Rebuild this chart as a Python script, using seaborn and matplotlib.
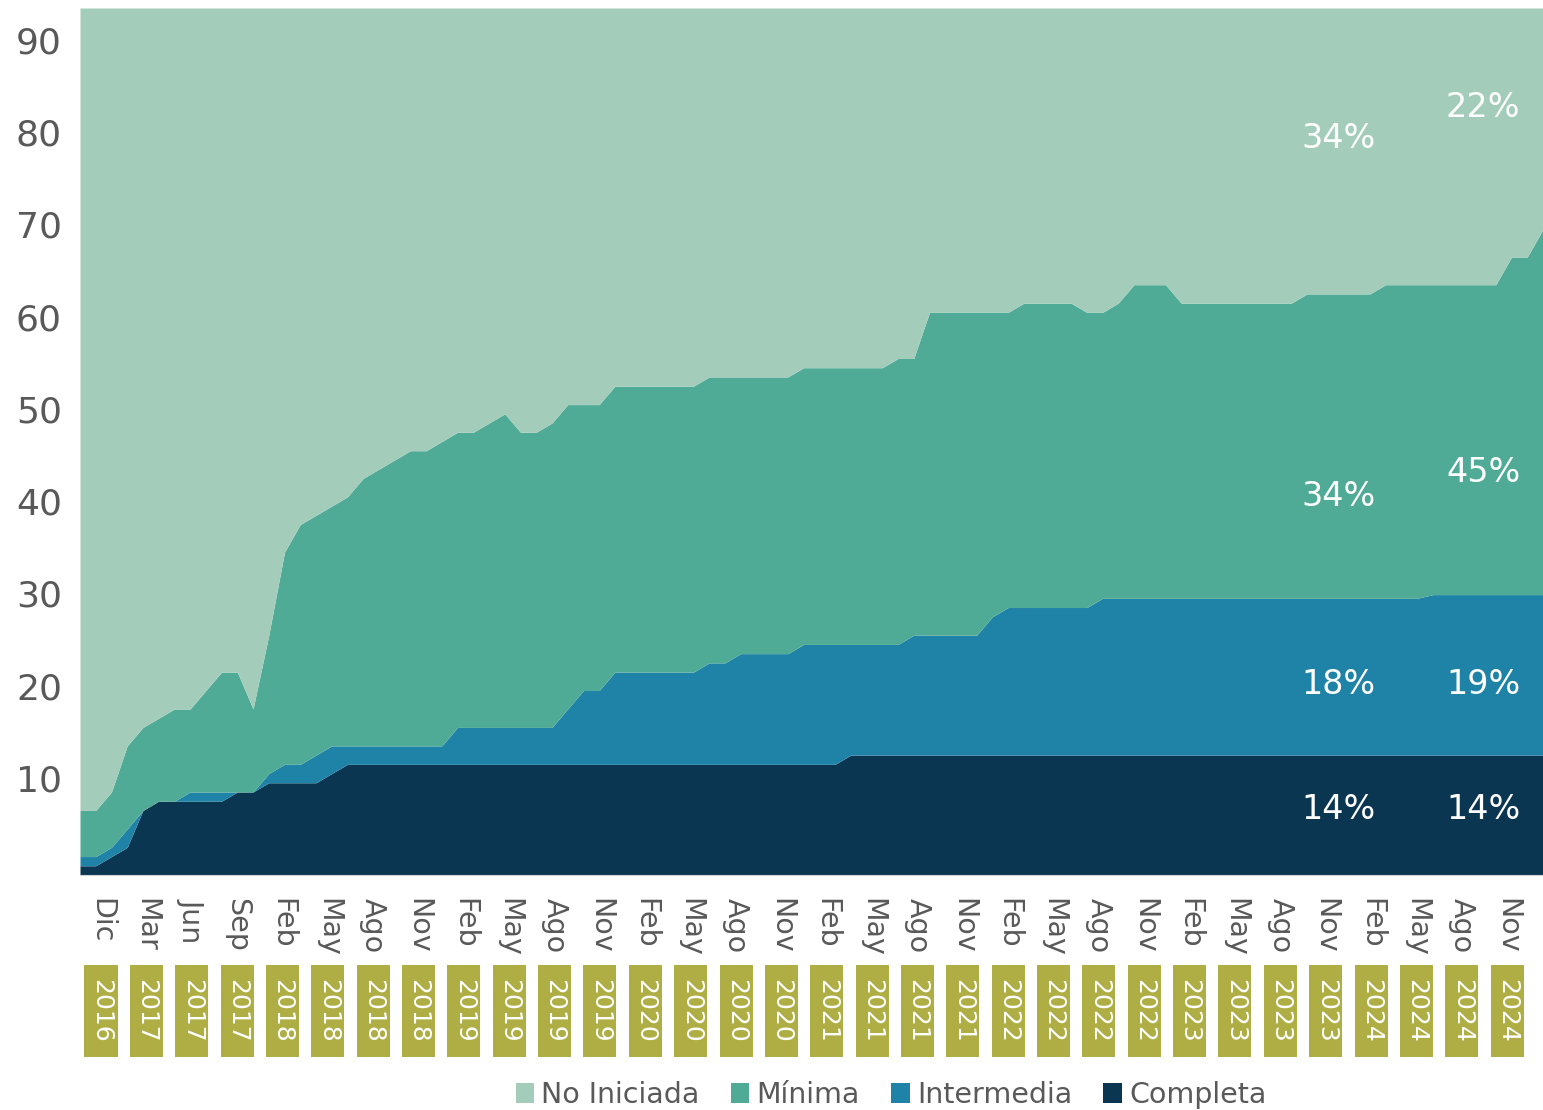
import numpy as np
import pandas as pd
import matplotlib
matplotlib.use("Agg")
import matplotlib.pyplot as plt
import seaborn as sns
from matplotlib.patches import Rectangle, Patch
from matplotlib.transforms import blended_transform_factory, ScaledTranslation

# Categories (stack order bottom -> top)
categorias = ["Completa", "Intermedia", "Mínima", "No Iniciada"]
colores = ["#0B3652", "#1F82A7", "#4FAB95", "#A3CDBA"]

# Number of entities per category, one value per report
completa = [1, 1, 2, 3, 7, 8, 8, 8, 8, 8,
            9, 9, 10, 10, 10, 10, 11, 12, 12, 12,
            12, 12, 12, 12, 12, 12, 12, 12, 12, 12,
            12, 12, 12, 12, 12, 12, 12, 12, 12, 12,
            12, 12, 12, 12, 12, 12, 12, 12, 12, 13,
            13, 13, 13, 13, 13, 13, 13, 13, 13, 13,
            13, 13, 13, 13, 13, 13, 13, 13, 13, 13,
            13, 13, 13, 13, 13, 13, 13, 13, 13, 13,
            13, 13, 13, 13, 13, 13, 13, 13, 13, 13,
            13, 13, 13, 13]
intermedia = [1, 1, 1, 2, 0, 0, 0, 1, 1, 1,
              0, 0, 1, 2, 2, 3, 3, 2, 2, 2,
              2, 2, 2, 2, 4, 4, 4, 4, 4, 4,
              4, 6, 8, 8, 10, 10, 10, 10, 10, 10,
              11, 11, 12, 12, 12, 12, 13, 13, 13, 12,
              12, 12, 12, 13, 13, 13, 13, 13, 15, 16,
              16, 16, 16, 16, 16, 17, 17, 17, 17, 17,
              17, 17, 17, 17, 17, 17, 17, 17, 17, 17,
              17, 17, 17, 17, 17, 17, 17.4, 17.4, 17.4, 17.4,
              17.4, 17.4, 17.4, 17.4]
minima = [5, 5, 6, 9, 9, 9, 10, 9, 11, 13,
          13, 9, 15, 23, 26, 26, 26, 27, 29, 30,
          31, 32, 32, 33, 32, 32, 33, 34, 32, 32,
          33, 33, 31, 31, 31, 31, 31, 31, 31, 31,
          31, 31, 30, 30, 30, 30, 30, 30, 30, 30,
          30, 30, 31, 30, 35, 35, 35, 35, 33, 32,
          33, 33, 33, 33, 32, 31, 32, 34, 34, 34,
          32, 32, 32, 32, 32, 32, 32, 32, 33, 33,
          33, 33, 33, 34, 34, 34, 33.6, 33.6, 33.6, 33.6,
          33.6, 36.6, 36.6, 39.6]
no_iniciada = [87, 87, 85, 80, 78, 77, 76, 76, 74, 72,
               72, 76, 68, 59, 56, 55, 54, 53, 51, 50,
               49, 48, 48, 47, 46, 46, 45, 44, 46, 46,
               45, 43, 43, 43, 41, 41, 41, 41, 41, 41,
               40, 40, 40, 40, 40, 40, 39, 39, 39, 39,
               39, 39, 38, 38, 33, 33, 33, 33, 33, 33,
               32, 32, 32, 32, 33, 33, 32, 30, 30, 30,
               32, 32, 32, 32, 32, 32, 32, 32, 31, 31,
               31, 31, 31, 30, 30, 30, 30, 30, 30, 30,
               30, 27, 27, 24]

# Axis labels
meses = ["Dic", "Mar", "Jun", "Sep",
         "Feb", "May", "Ago", "Nov", "Feb", "May", "Ago", "Nov",
         "Feb", "May", "Ago", "Nov", "Feb", "May", "Ago", "Nov",
         "Feb", "May", "Ago", "Nov", "Feb", "May", "Ago", "Nov",
         "Feb", "May", "Ago", "Nov"]
anios = ["2016", "2017", "2017", "2017",
         "2018", "2018", "2018", "2018", "2019", "2019", "2019", "2019",
         "2020", "2020", "2020", "2020", "2021", "2021", "2021", "2021",
         "2022", "2022", "2022", "2022", "2023", "2023", "2023", "2023",
         "2024", "2024", "2024", "2024"]

# Share labels at the last reports
etiquetas_nov23 = ["14%", "18%", "34%", "34%"]
etiquetas_final = ["14%", "19%", "45%", "22%"]

df = pd.DataFrame({"Completa": completa, "Intermedia": intermedia,
                   "Mínima": minima, "No Iniciada": no_iniciada})
df.index.name = "reporte"
total = df.sum(axis=1).max()

sns.set_style("white")
plt.rcParams["font.family"] = ["DejaVu Sans"]
gris = "#595959"

fig = plt.figure(figsize=(15.43, 11.10), dpi=100)
ax = fig.add_axes([80 / 1543, 1 - 875 / 1110, 1 - 80 / 1543, 867 / 1110])

ax.stackplot(df.index, *[df[c] for c in categorias], colors=colores,
             labels=categorias, linewidth=0)
ax.set_xlim(df.index.min(), df.index.max())
ax.set_ylim(0, total)

# y axis
ax.set_yticks(np.arange(10, 91, 10))
ax.tick_params(axis="y", length=0, labelsize=26, labelcolor=gris, pad=13)
desplaza = ScaledTranslation(0, 5 / 100, fig.dpi_scale_trans)
for lab in ax.get_yticklabels():
    lab.set_transform(lab.get_transform() + desplaza)

# x axis: tick marks every third report, labels drawn below
ax.set_xticks(np.arange(0, len(df), 3))
ax.set_xticklabels([])
ax.tick_params(axis="x", length=8, width=1, color="#d4d4d4", direction="out")
sns.despine(ax=ax, left=True, top=True, right=True)
ax.spines["bottom"].set_color("#d4d4d4")

trans = blended_transform_factory(ax.transData, fig.transFigure)
pos_lab = np.linspace(1.335, 90.72, len(meses))
y0, y1 = 1 - 1057 / 1110, 1 - 965 / 1110
for xp, mes, an in zip(pos_lab, meses, anios):
    ax.text(xp, 1 - 898 / 1110, mes, transform=trans, rotation=-90,
            ha="center", va="top", fontsize=20.5, color=gris, clip_on=False)
    ax.add_patch(Rectangle((xp - 1.05, y0), 2.1, y1 - y0, transform=trans,
                           facecolor="#AEAE45", edgecolor="none", clip_on=False))
    ax.text(xp, (y0 + y1) / 2, an, transform=trans, rotation=-90,
            ha="center", va="center", fontsize=18, color="white", clip_on=False)

# percentage annotations
ys_a = [7.1, 20.6, 41.0, 79.9]
ys_b = [7.1, 20.6, 43.6, 83.2]
for s, yy in zip(etiquetas_nov23, ys_a):
    ax.text(80.0, yy, s, color="white", fontsize=24, ha="center", va="center")
for s, yy in zip(etiquetas_final, ys_b):
    ax.text(89.2, yy, s, color="white", fontsize=24, ha="center", va="center")

# legend
orden = ["No Iniciada", "Mínima", "Intermedia", "Completa"]
handles = [Patch(facecolor=colores[categorias.index(c)], edgecolor="none") for c in orden]
fig.legend(handles, orden, loc="center", bbox_to_anchor=(891 / 1543, 1 - 1095 / 1110),
           ncol=4, frameon=False, fontsize=20.5, labelcolor=gris,
           handlelength=0.65, handleheight=0.65, handletextpad=0.25,
           columnspacing=1.1)

fig.savefig("out.png", dpi=100)
